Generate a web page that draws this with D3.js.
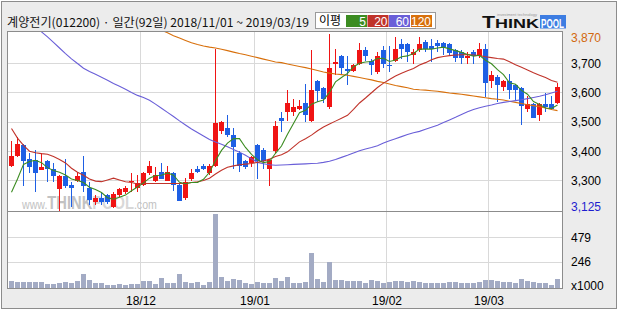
<!DOCTYPE html>
<html>
<head>
<meta charset="utf-8">
<script src="https://cdn.jsdelivr.net/npm/d3@7"></script>
<style>
  body { margin: 0; background: #fff; }
  svg text { font-family: 'Liberation Sans', Arial, sans-serif; }
</style>
</head>
<body>
<svg id="chart" width="620" height="310"></svg>
<script>
// trading days shown (yy/mm/dd)
const days = [
  '18/11/01','18/11/02','18/11/05','18/11/06','18/11/07','18/11/08','18/11/09','18/11/12','18/11/13','18/11/14',
  '18/11/15','18/11/16','18/11/19','18/11/20','18/11/21','18/11/22','18/11/23','18/11/26','18/11/27','18/11/28',
  '18/11/29','18/11/30','18/12/03','18/12/04','18/12/05','18/12/06','18/12/07','18/12/10','18/12/11','18/12/12',
  '18/12/13','18/12/14','18/12/17','18/12/18','18/12/19','18/12/20','18/12/21','18/12/24','18/12/26','18/12/27',
  '18/12/28','19/01/02','19/01/03','19/01/04','19/01/07','19/01/08','19/01/09','19/01/10','19/01/11','19/01/14',
  '19/01/15','19/01/16','19/01/17','19/01/18','19/01/21','19/01/22','19/01/23','19/01/24','19/01/25','19/01/28',
  '19/01/29','19/01/30','19/01/31','19/02/01','19/02/07','19/02/08','19/02/11','19/02/12','19/02/13','19/02/14',
  '19/02/15','19/02/18','19/02/19','19/02/20','19/02/21','19/02/22','19/02/25','19/02/26','19/02/27','19/02/28',
  '19/03/04','19/03/05','19/03/06','19/03/07','19/03/08','19/03/11','19/03/12','19/03/13','19/03/14','19/03/15',
  '19/03/18','19/03/19'
];

const opens = [
  3350,3385,3420,3375,3370,3335,3365,3340,3270,3315,
  3285,3300,3330,3275,3225,3240,3250,3210,3250,3260,
  3295,3275,3285,3325,3300,3330,3300,3325,3285,3240,
  3305,3340,3350,3325,3350,3470,3480,3455,3395,3365,
  3360,3420,3405,3340,3400,3515,3535,3535,3545,3565,
  3505,3640,3615,3550,3700,3725,3680,3675,3700,3745,
  3710,3670,3745,3695,3710,3765,3765,3730,3745,3775,
  3760,3770,3770,3765,3745,3740,3720,3740,3725,3750,
  3640,3655,3620,3640,3625,3615,3545,3560,3525,3560,
  3560,3565
];
const highs = [
  3435,3450,3425,3395,3405,3395,3370,3360,3320,3375,
  3295,3330,3385,3295,3250,3260,3255,3260,3275,3280,
  3325,3320,3330,3365,3345,3360,3350,3330,3290,3310,
  3340,3350,3355,3355,3750,3505,3525,3480,3400,3370,
  3385,3425,3410,3375,3505,3535,3610,3580,3575,3630,
  3745,3645,3620,3800,3750,3730,3725,3700,3770,3755,
  3715,3740,3760,3760,3790,3785,3770,3750,3790,3780,
  3785,3780,3775,3770,3750,3745,3740,3745,3770,3765,
  3675,3660,3645,3665,3630,3620,3590,3565,3565,3600,
  3590,3635
];
const lows = [
  3345,3380,3280,3325,3260,3335,3295,3295,3195,3275,
  3210,3295,3260,3215,3215,3215,3220,3205,3245,3255,
  3260,3260,3280,3320,3295,3305,3300,3265,3230,3235,
  3300,3325,3335,3320,3345,3460,3450,3340,3330,3340,
  3345,3305,3340,3280,3395,3465,3505,3520,3540,3500,
  3500,3570,3565,3545,3660,3665,3625,3670,3695,3710,
  3660,3665,3685,3670,3705,3715,3705,3700,3740,3740,
  3705,3740,3730,3730,3705,3700,3700,3700,3720,3585,
  3615,3570,3605,3580,3575,3490,3535,3515,3505,3535,
  3540,3560
];
const closes = [
  3385,3425,3365,3345,3325,3345,3340,3315,3315,3280,
  3275,3315,3280,3235,3240,3225,3225,3255,3270,3275,
  3300,3290,3325,3350,3320,3305,3330,3285,3230,3295,
  3325,3330,3340,3350,3495,3500,3455,3415,3350,3345,
  3380,3365,3365,3370,3485,3505,3565,3550,3555,3525,
  3610,3605,3580,3685,3705,3685,3675,3695,3745,3725,
  3695,3725,3700,3690,3750,3750,3740,3740,3765,3750,
  3750,3760,3755,3735,3720,3720,3725,3725,3750,3635,
  3660,3625,3640,3610,3610,3555,3560,3515,3560,3550,
  3545,3620
];

// moving averages (null = outside the panel)
const ma5 = [
  3260,3305,3355,3365,3369,3361,3344,3334,3328,3319,
  3305,3300,3293,3277,3269,3259,3241,3236,3243,3250,
  3265,3278,3292,3308,3317,3318,3326,3318,3294,3289,
  3293,3293,3304,3328,3368,3403,3428,3443,3443,3413,
  3389,3371,3361,3365,3393,3418,3458,3495,3532,3540,
  3561,3569,3575,3601,3637,3652,3666,3689,3701,3705,
  3707,3717,3718,3707,3712,3723,3726,3734,3749,3749,
  3749,3753,3756,3750,3744,3738,3731,3725,3728,3711,
  3699,3679,3662,3634,3629,3608,3595,3570,3560,3548,
  3546,3558
];
const ma20 = [
  3478,3445,3420,3400,3395,3392,3390,3382,3372,3360,
  3342,3328,3318,3305,3298,3296,3302,3308,3302,3296,
  3293,3288,3290,3290,3290,3290,3290,3290,3290,3290,
  3293,3296,3300,3308,3322,3335,3345,3350,3354,3356,
  3358,3362,3367,3373,3382,3388,3398,3415,3432,3443,
  3455,3470,3483,3493,3503,3513,3523,3543,3565,3582,
  3600,3618,3633,3645,3657,3667,3675,3683,3695,3703,
  3713,3720,3724,3727,3729,3730,3731,3729,3727,3723,
  3720,3717,3715,3706,3696,3687,3678,3668,3660,3652,
  3642,3636
];
const ma60 = [
  null,null,null,null,3828,3808,3791,3772,3753,3734,
  3716,3700,3684,3673,3663,3653,3643,3632,3622,3612,
  3601,3591,3584,3574,3561,3547,3533,3519,3504,3490,
  3476,3464,3452,3440,3432,3424,3415,3406,3397,3386,
  3374,3362,3357,3354,3352,3353,3354,3355,3356,3357,
  3358,3359,3362,3366,3372,3379,3386,3394,3402,3408,
  3413,3419,3428,3436,3443,3450,3457,3463,3468,3475,
  3482,3489,3498,3507,3516,3526,3535,3543,3549,3554,
  3558,3563,3567,3570,3573,3576,3580,3584,3588,3593,
  3599,3605
];
const ma120 = [
  null,null,null,null,null,null,null,null,null,null,
  null,null,null,null,null,null,null,null,null,null,
  null,null,null,null,null,3814,3805,3795,3787,3779,
  3771,3765,3760,3756,3753,3749,3744,3739,3734,3730,
  3725,3720,3715,3710,3705,3703,3698,3694,3690,3686,
  3681,3676,3671,3667,3664,3662,3660,3656,3652,3648,
  3644,3639,3635,3630,3625,3621,3617,3612,3610,3609,
  3607,3605,3602,3599,3597,3595,3592,3589,3586,3583,
  3580,3578,3575,3571,3567,3563,3559,3556,3552,3548,
  3543,3539
];

// volume, thousands of shares
const volumes = [
  66,54,57,57,57,57,38,38,50,57,
  50,69,133,76,45,50,31,31,38,31,
  38,38,66,66,38,95,45,50,133,57,
  45,57,28,57,702,104,69,85,76,47,
  38,57,45,47,95,69,104,47,50,57,
  335,85,60,250,72,76,69,66,66,45,
  76,66,45,60,66,66,60,66,54,45,
  50,45,45,54,54,45,45,45,60,76,
  76,66,54,60,45,85,69,60,45,45,
  31,85
];

const priceTicks = [3700, 3600, 3500, 3400, 3300];
const volTicks = [479, 246];
const monthStarts = ['18/12/03', '19/01/02', '19/02/01', '19/03/04'];
const monthLabels = ['18/12', '19/01', '19/02', '19/03'];
const maPeriods = ['5', '20', '60', '120'];

const maColors = ['#3c8c22', '#c0332a', '#6a5fd8', '#d8700c'];
const upColor = '#f01414', downColor = '#1e5fe4';

const svg = d3.select('#chart');
const P = {left: 7.5, right: 562.5, top: 31.5, split: 211.5, bottom: 288.5};

var x = d3.scaleBand().domain(days).range([8, 560]);
var y = d3.scaleLinear().domain([3300, 3700]).range([180.5, 63.5]);
var yVol = d3.scaleLinear().domain([0, 479]).range([288, 237.5]);
var cx = function(i) { return x(days[i]) + 3.5; };

function drawBackground() {
    svg.append('rect').attr('width', 620).attr('height', 310).attr('fill', '#fff');
    svg.append('rect')
        .attr('x', 1.5).attr('y', 1.5).attr('width', 615).attr('height', 307)
        .attr('fill', '#ececec').attr('stroke', '#8c8c8c');
    svg.append('rect')
        .attr('x', P.left).attr('y', P.top)
        .attr('width', P.right - P.left).attr('height', P.bottom - P.top)
        .attr('fill', '#fff');

    let defs = svg.append('defs');
    defs.append('clipPath').attr('id', 'clipPrice').append('rect')
        .attr('x', 8).attr('y', 32).attr('width', 554).attr('height', 179);
    defs.append('clipPath').attr('id', 'clipVol').append('rect')
        .attr('x', 8).attr('y', 212).attr('width', 554).attr('height', 76);
}

function drawGrid() {
    let grid = svg.append('g')
        .attr('stroke', '#d9d9d9')
        .attr('shape-rendering', 'crispEdges');
    grid.selectAll('line.hp').data(priceTicks).join('line')
        .attr('x1', 8).attr('x2', 562)
        .attr('y1', d => y(d)).attr('y2', d => y(d));
    grid.selectAll('line.hv').data(volTicks).join('line')
        .attr('x1', 8).attr('x2', 562)
        .attr('y1', d => yVol(d)).attr('y2', d => yVol(d));
    grid.selectAll('line.vm').data(monthStarts).join('line')
        .attr('x1', d => x(d) + 0.5).attr('x2', d => x(d) + 0.5)
        .attr('y1', P.top).attr('y2', P.bottom);
}

function drawWatermark() {
    // one text, squeezed horizontally to span x 22..157
    let t = svg.append('text')
        .style('fill', '#c2c2c2');
    t.append('tspan').style('font-size', '13px').text('www.');
    t.append('tspan').style('font-size', '18px').style('font-weight', 'bold').text('THINK');
    t.append('tspan').style('font-size', '18px').style('font-weight', 'bold')
        .style('fill', '#d8d8d8').text('POOL');
    t.append('tspan').style('font-size', '13px').text('.com');
    let natural = t.node().getComputedTextLength() || 170;
    t.attr('transform', 'translate(22,209) scale(' + (135 / natural) + ',1)');
}

function drawCandles() {
    let g = svg.append('g').attr('clip-path', 'url(#clipPrice)');
    let idx = d3.range(days.length);
    let col = i => closes[i] >= opens[i] ? upColor : downColor;

    g.selectAll('line.wick').data(idx).join('line')
        .attr('class', 'wick')
        .attr('x1', cx).attr('x2', cx)
        .attr('y1', i => y(highs[i])).attr('y2', i => y(lows[i]))
        .attr('stroke', col)
        .attr('shape-rendering', 'crispEdges');
    g.selectAll('rect.body').data(idx).join('rect')
        .attr('class', 'body')
        .attr('x', i => x(days[i]) + 1)
        .attr('width', 5)
        .attr('y', i => y(Math.max(opens[i], closes[i])))
        .attr('height', i => Math.max(1.5, Math.abs(y(opens[i]) - y(closes[i]))))
        .attr('fill', col)
        .attr('shape-rendering', 'crispEdges');

    // moving averages
    var lineGen = d3.line()
        .defined(d => d != null)
        .x((d, i) => cx(i))
        .y(d => y(d));
    [ma120, ma60, ma20, ma5].forEach(function(series, k) {
        g.append('path')
            .attr('d', lineGen(series))
            .style('fill', 'none')
            .style('stroke', maColors[3 - k])
            .style('stroke-width', '1.1px');
    });
}

function drawVolume() {
    let g = svg.append('g').attr('clip-path', 'url(#clipVol)');
    g.selectAll('rect.vol').data(volumes).join('rect')
        .attr('class', 'vol')
        .attr('x', (d, i) => x(days[i]) + 1)
        .attr('width', 5)
        .attr('y', d => yVol(d))
        .attr('height', d => yVol(0) - yVol(d))
        .attr('fill', '#a3abc4')
        .attr('shape-rendering', 'crispEdges');
}

function drawFrame() {
    let f = svg.append('g')
        .attr('fill', 'none').attr('stroke', '#8c8c8c')
        .attr('shape-rendering', 'crispEdges');
    f.append('rect')
        .attr('x', P.left).attr('y', P.top)
        .attr('width', P.right - P.left).attr('height', P.bottom - P.top);
    f.append('line')
        .attr('x1', P.left).attr('x2', P.right)
        .attr('y1', P.split).attr('y2', P.split);
}

function drawAxes() {
    let fmt = d3.format(',');
    let ax = svg.append('g')
        .attr('transform', 'translate(571,0)')
        .call(d3.axisRight(y).tickValues(priceTicks).tickSize(0).tickPadding(0).tickFormat(fmt));
    ax.select('.domain').remove();
    ax.attr('font-size', 12).attr('font-family', 'Liberation Sans, Arial, sans-serif');

    let av = svg.append('g')
        .attr('transform', 'translate(571,0)')
        .call(d3.axisRight(yVol).tickValues(volTicks).tickSize(0).tickPadding(0));
    av.select('.domain').remove();
    av.attr('font-size', 12).attr('font-family', 'Liberation Sans, Arial, sans-serif');

    // panel top / bottom price labels
    svg.append('text').attr('x', 571).attr('y', 42)
        .style('font-size', '12px').style('fill', '#d2680e').text('3,870');
    svg.append('text').attr('x', 571).attr('y', 211)
        .style('font-size', '12px').style('fill', '#1e1ecf').text('3,125');
    svg.append('text').attr('x', 571).attr('y', 290)
        .style('font-size', '12px').style('fill', '#000').text('x1000');

    let mx = svg.append('g')
        .attr('transform', 'translate(-2,296)')
        .call(d3.axisBottom(x).tickValues(monthStarts).tickSize(0).tickPadding(0)
            .tickFormat((d, i) => monthLabels[i]));
    mx.select('.domain').remove();
    mx.attr('font-size', 12).attr('font-family', 'Liberation Sans, Arial, sans-serif');
}

function drawHeader() {
    svg.append('text')
        .attr('x', 7).attr('y', 27)
        .attr('textLength', 302).attr('lengthAdjust', 'spacingAndGlyphs')
        .style('font-family', "'Noto Sans CJK KR', sans-serif")
        .style('font-size', '12px')
        .style('fill', '#111')
        .text('계양전기(012200) · 일간(92일) 2018/11/01 ~ 2019/03/19');

    // MA legend
    svg.append('rect')
        .attr('x', 315.5).attr('y', 12.5).attr('width', 120).attr('height', 16)
        .attr('fill', '#fff').attr('stroke', '#9a9a9a');
    svg.append('text')
        .attr('x', 319).attr('y', 25)
        .style('font-family', "'Noto Sans CJK KR', sans-serif")
        .style('font-size', '12px')
        .text('이평');
    let boxX = [346, 367.5, 389, 411];
    maPeriods.forEach(function(p, k) {
        svg.append('rect')
            .attr('x', boxX[k]).attr('y', 15).attr('width', 21).attr('height', 12)
            .attr('fill', maColors[k]);
        svg.append('text')
            .attr('x', boxX[k] + 20).attr('y', 25.5)
            .attr('text-anchor', 'end')
            .style('font-size', '12px').style('fill', '#fff')
            .text(p);
    });

    // logo
    svg.append('rect')
        .attr('x', 540).attr('y', 15).attr('width', 26).attr('height', 13.5)
        .attr('fill', '#3d7de2');
    let lg = svg.append('text')
        .attr('x', 482).attr('y', 28)
        .attr('textLength', 57).attr('lengthAdjust', 'spacingAndGlyphs')
        .style('font-weight', 'bold').style('fill', '#111');
    lg.append('tspan').style('font-size', '16px').text('T');
    lg.append('tspan').style('font-size', '13.5px').text('HINK');
    svg.append('text')
        .attr('x', 541).attr('y', 27.5)
        .attr('textLength', 23).attr('lengthAdjust', 'spacingAndGlyphs')
        .style('font-weight', 'bold').style('font-size', '13.5px').style('fill', '#fff')
        .text('POOL');
    svg.append('text')
        .attr('x', 497).attr('y', 16)
        .attr('textLength', 40).attr('lengthAdjust', 'spacingAndGlyphs')
        .style('font-size', '4px').style('fill', '#999')
        .text('investment technology');
}

drawBackground();
drawGrid();
drawWatermark();
drawVolume();
drawCandles();
drawFrame();
drawAxes();
drawHeader();
</script>
</body>
</html>
